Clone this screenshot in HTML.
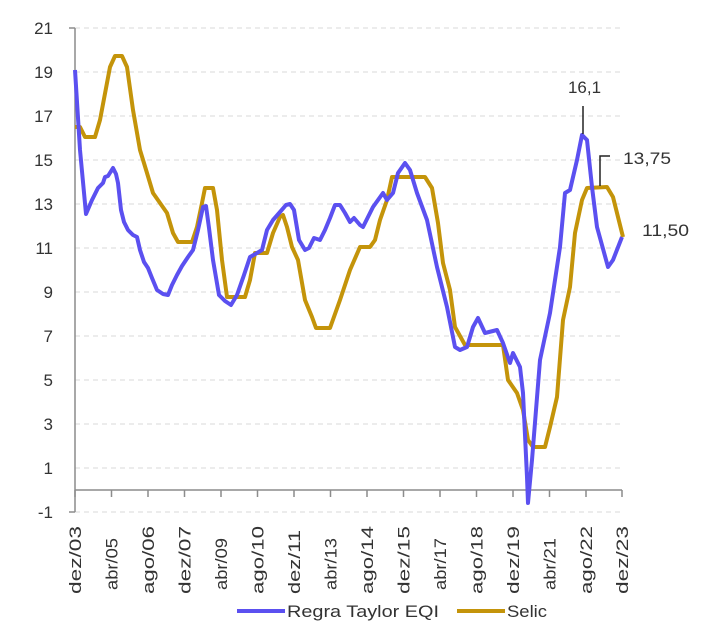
<!DOCTYPE html>
<html><head><meta charset="utf-8"><style>
html,body{margin:0;padding:0;background:#fff;}
svg{display:block;font-family:"Liberation Sans",sans-serif;}
</style></head><body>
<svg width="717" height="628" viewBox="0 0 717 628" xmlns="http://www.w3.org/2000/svg">
<g stroke="#d9d9d9" stroke-width="1" stroke-dasharray="5,4">
<line x1="75" y1="28" x2="622" y2="28"/><line x1="75" y1="72" x2="622" y2="72"/>
<line x1="75" y1="116" x2="622" y2="116"/><line x1="75" y1="160" x2="622" y2="160"/>
<line x1="75" y1="204" x2="622" y2="204"/><line x1="75" y1="248" x2="622" y2="248"/>
<line x1="75" y1="292" x2="622" y2="292"/><line x1="75" y1="336" x2="622" y2="336"/>
<line x1="75" y1="380" x2="622" y2="380"/><line x1="75" y1="424" x2="622" y2="424"/>
<line x1="75" y1="468" x2="622" y2="468"/><line x1="75" y1="512" x2="622" y2="512"/>
</g>
<g stroke="#8c8c8c" stroke-width="1.5" fill="none">
<line x1="75" y1="28" x2="75" y2="512"/>
<line x1="75" y1="490" x2="622" y2="490"/>
<line x1="69" y1="512" x2="75" y2="512"/>
<line x1="69" y1="28" x2="75" y2="28"/>
<path d="M75 490v7M111.5 490v7M148 490v7M184.5 490v7M221 490v7M257.5 490v7M294 490v7M330.5 490v7M367 490v7M403.5 490v7M440 490v7M476.5 490v7M513 490v7M549.5 490v7M586 490v7M622 490v7"/>
</g>
<g font-size="17" fill="#333" text-anchor="end">
<text x="53" y="34">21</text><text x="53" y="78">19</text><text x="53" y="122">17</text>
<text x="53" y="166">15</text><text x="53" y="210">13</text><text x="53" y="254">11</text>
<text x="53" y="298">9</text><text x="53" y="342">7</text><text x="53" y="386">5</text>
<text x="53" y="430">3</text><text x="53" y="474">1</text><text x="53" y="518">-1</text>
</g>
<g font-size="17" fill="#333">
<text transform="translate(81,594) rotate(-90)" textLength="68" lengthAdjust="spacingAndGlyphs">dez/03</text>
<text transform="translate(117.5,590) rotate(-90)" textLength="52" lengthAdjust="spacingAndGlyphs">abr/05</text>
<text transform="translate(154,594) rotate(-90)" textLength="68" lengthAdjust="spacingAndGlyphs">ago/06</text>
<text transform="translate(190.5,594) rotate(-90)" textLength="68" lengthAdjust="spacingAndGlyphs">dez/07</text>
<text transform="translate(227,590) rotate(-90)" textLength="52" lengthAdjust="spacingAndGlyphs">abr/09</text>
<text transform="translate(263.5,594) rotate(-90)" textLength="68" lengthAdjust="spacingAndGlyphs">ago/10</text>
<text transform="translate(300,594) rotate(-90)" textLength="64" lengthAdjust="spacingAndGlyphs">dez/11</text>
<text transform="translate(336.5,590) rotate(-90)" textLength="52" lengthAdjust="spacingAndGlyphs">abr/13</text>
<text transform="translate(373,594) rotate(-90)" textLength="68" lengthAdjust="spacingAndGlyphs">ago/14</text>
<text transform="translate(409.5,594) rotate(-90)" textLength="68" lengthAdjust="spacingAndGlyphs">dez/15</text>
<text transform="translate(446,590) rotate(-90)" textLength="52" lengthAdjust="spacingAndGlyphs">abr/17</text>
<text transform="translate(482.5,594) rotate(-90)" textLength="68" lengthAdjust="spacingAndGlyphs">ago/18</text>
<text transform="translate(519,594) rotate(-90)" textLength="68" lengthAdjust="spacingAndGlyphs">dez/19</text>
<text transform="translate(555.5,590) rotate(-90)" textLength="52" lengthAdjust="spacingAndGlyphs">abr/21</text>
<text transform="translate(592,594) rotate(-90)" textLength="68" lengthAdjust="spacingAndGlyphs">ago/22</text>
<text transform="translate(628,594) rotate(-90)" textLength="68" lengthAdjust="spacingAndGlyphs">dez/23</text>
</g>
<polyline fill="none" stroke="#C4940A" stroke-width="4" stroke-linejoin="round" points="75,127 80,127 85,137 95,137 100,120 110,67 115,56 122,56 127,67 133,110 140,150 147,173 153,193 160,203 167,213 173,233 178,242 192,242 197,227 202,203 205,188 213,188 217,210 222,260 227,297 245,297 250,280 255,253 267,253 273,233 280,217 283,215 287,227 292,247 298,260 305,300 312,317 316,328 330,328 340,300 350,270 360,247 370,247 375,240 380,220 387,200 392,177 425,177 432,188 438,223 443,263 450,290 455,327 465,345 503,345 508,380 517,393 523,410 528,440 533,447 545,447 550,427 557,397 563,320 570,287 575,233 582,200 587,188 607,187 613,197 618,217 623,237"/>
<polyline fill="none" stroke="#5B50F0" stroke-width="4" stroke-linejoin="round" points="75,70 80,150 86,214 92,200 98,188 103,183 105,177 108,176 113,168 116,174 118,183 121,210 124,222 128,230 133,235 137,237 140,250 144,262 148,268 152,278 157,290 163,294 168,295 172,285 177,275 182,266 188,257 193,250 198,230 203,207 206,206 209,228 213,260 219,295 225,301 231,305 237,295 244,275 250,257 257,253 262,250 267,230 273,220 280,212 286,205 290,204 294,210 299,240 305,250 309,248 314,238 320,240 325,230 330,218 335,205 340,205 345,213 350,222 354,218 360,225 363,227 373,207 383,193 387,200 393,193 398,173 405,163 410,170 417,193 427,220 437,267 447,307 455,347 460,350 467,347 473,327 478,318 485,333 497,330 503,343 510,363 513,353 520,367 523,393 527,477 528,503 532,460 540,360 550,313 560,247 565,193 570,190 577,160 582,135 587,140 592,187 597,227 608,267 613,260 622,237"/>
<g stroke="#222" stroke-width="1.5" fill="none">
<line x1="583" y1="106" x2="583" y2="134"/>
<polyline points="610,156 600,156 600,186"/>
</g>
<g font-size="17" fill="#333">
<text x="568" y="93" textLength="33" lengthAdjust="spacingAndGlyphs">16,1</text>
<text x="623" y="164" textLength="48" lengthAdjust="spacingAndGlyphs">13,75</text>
<text x="642" y="236" textLength="47" lengthAdjust="spacingAndGlyphs">11,50</text>
</g>
<line x1="237" y1="611" x2="285" y2="611" stroke="#5B50F0" stroke-width="4"/>
<line x1="457" y1="611" x2="505" y2="611" stroke="#C4940A" stroke-width="4"/>
<g font-size="17" fill="#333">
<text x="287" y="617" textLength="152" lengthAdjust="spacingAndGlyphs">Regra Taylor EQI</text>
<text x="507" y="617" textLength="40" lengthAdjust="spacingAndGlyphs">Selic</text>
</g>
</svg>
</body></html>
